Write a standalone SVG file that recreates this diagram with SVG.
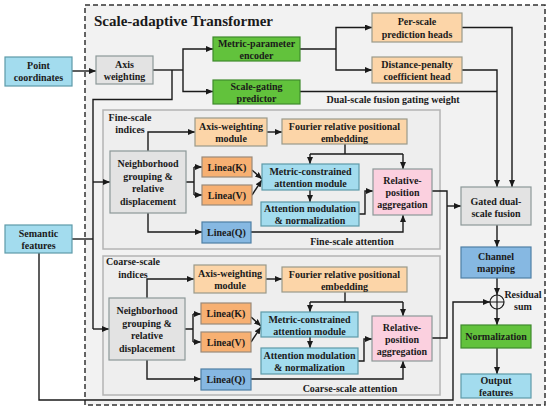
<svg xmlns="http://www.w3.org/2000/svg" width="550" height="411" viewBox="0 0 550 411">
<style>
text{font-family:"Liberation Serif","Times New Roman",serif;font-weight:bold;fill:#1a1a1a;}
.t{font-size:10px;text-anchor:middle;}
.title{font-size:15px;}
.lbl{font-size:10px;text-anchor:middle;}
.box{stroke-width:1.2;}
.cyan{fill:#a3dcee;stroke:#5e9aa8;}
.gray{fill:#e3e3e3;stroke:#8c9898;}
.green{fill:#62c23c;stroke:#3f8a2c;}
.lor{fill:#fcd5a8;stroke:#9a9a8a;}
.dor{fill:#f7b072;stroke:#9a8a7a;}
.blue{fill:#86b8e2;stroke:#4f7fa5;}
.pink{fill:#fbd0df;stroke:#8c9898;}
.blk{fill:#eeeeee;stroke:#b4b4b4;stroke-width:1.5;}
.c{fill:none;stroke:#1a1a1a;stroke-width:1.4;}
.a{marker-end:url(#ah);}
</style>
<defs>
<marker id="ah" markerWidth="7" markerHeight="6" refX="7" refY="3" orient="auto" markerUnits="userSpaceOnUse">
<path d="M0,0 L7,3 L0,6 z" fill="#1a1a1a"/>
</marker>
</defs>
<rect x="0" y="0" width="550" height="411" fill="#ffffff"/>
<rect x="85" y="5" width="460" height="400" fill="#f2f2f2" stroke="#333" stroke-width="1.5" stroke-dasharray="5,3"/>
<text class="title" x="94" y="26">Scale-adaptive Transformer</text>

<g id="fine-block">
<rect class="blk" x="103" y="110" width="337" height="139"/>
<text class="lbl" x="130" y="120.5">Fine-scale</text>
<text class="lbl" x="130" y="133">indices</text>
<text class="lbl" x="352" y="244.5">Fine-scale attention</text>
</g>
<g id="coarse-block">
<rect class="blk" x="103" y="256" width="337" height="139"/>
<text class="lbl" x="133" y="265">Coarse-scale</text>
<text class="lbl" x="133" y="277.5">indices</text>
<text class="lbl" x="350" y="391.5">Coarse-scale attention</text>
</g>

<g id="connectors">
<path class="c a" d="M72,71 H96"/>
<path class="c" d="M153,70 H183"/>
<path class="c a" d="M183,70 V49 H213"/>
<path class="c a" d="M183,70 V91.5 H213"/>
<path class="c" d="M172,70 V99.5 H93 V329"/>
<path class="c a" d="M93,329 H109"/>
<path class="c a" d="M93,182 H110"/>
<path class="c" d="M300,49 H336"/>
<path class="c a" d="M336,49 V27.5 H372"/>
<path class="c a" d="M336,49 V70 H372"/>
<path class="c a" d="M462,27.5 H512 V187"/>
<path class="c a" d="M462,70 H497 V187"/>
<path class="c" d="M300,91.5 H497"/>
<path class="c" d="M72,239 H93"/>
<path class="c a" d="M39,253 V400 H453 V302 H490"/>
<!-- fine -->
<path class="c a" d="M148,151 V132 H195"/>
<path class="c" d="M186,182 H194 M194,167 V195"/>
<path class="c a" d="M194,167 H202"/>
<path class="c a" d="M194,195 H202"/>
<path class="c a" d="M148,213 V232 H202"/>
<path class="c a" d="M252,170 L262,179"/>
<path class="c a" d="M252,195 L262,180"/>
<path class="c a" d="M267,132 H282"/>
<path class="c" d="M345,144 V154 M310,154 H403"/>
<path class="c a" d="M310,154 V164"/>
<path class="c a" d="M403,154 V169"/>
<path class="c a" d="M310,190 V202"/>
<path class="c a" d="M359,214 H365 V191 H373"/>
<path class="c a" d="M251,232 H403 V215"/>
<!-- coarse -->
<path class="c a" d="M147,298 V279 H194"/>
<path class="c" d="M185,329 H193 M193,314 V342"/>
<path class="c a" d="M193,314 H201"/>
<path class="c a" d="M193,342 H201"/>
<path class="c a" d="M147,360 V379 H201"/>
<path class="c a" d="M251,317 L261,326"/>
<path class="c a" d="M251,342 L261,327"/>
<path class="c a" d="M266,279 H282"/>
<path class="c" d="M345,292 V302 M310,302 H403"/>
<path class="c a" d="M310,302 V312"/>
<path class="c a" d="M403,302 V316"/>
<path class="c a" d="M310,337 V348"/>
<path class="c a" d="M358,361 H364 V339 H372"/>
<path class="c a" d="M251,379 H403 V361"/>
<!-- fusion -->
<path class="c" d="M432,191 H447 V338 H432"/>
<path class="c a" d="M447,206 H461"/>
<path class="c a" d="M497,225 V247"/>
<path class="c a" d="M497,278 V295"/>
<path class="c a" d="M497,309 V325"/>
<path class="c a" d="M497,348 V374"/>
</g>

<g id="point-coordinates"><rect class="box cyan" x="5" y="57" width="67" height="29"/><text class="t" x="38.5" y="68.5">Point</text><text class="t" x="38.5" y="81">coordinates</text></g>
<g id="semantic-features"><rect class="box cyan" x="5" y="225" width="67" height="28"/><text class="t" x="38.5" y="236.5">Semantic</text><text class="t" x="38.5" y="249">features</text></g>
<g id="axis-weighting"><rect class="box gray" x="96" y="56" width="57" height="28"/><text class="t" x="124.5" y="67.5">Axis</text><text class="t" x="124.5" y="80">weighting</text></g>
<g id="metric-parameter-encoder"><rect class="box green" x="213" y="37" width="87" height="24"/><text class="t" x="256.5" y="47">Metric-parameter</text><text class="t" x="256.5" y="58.5">encoder</text></g>
<g id="scale-gating-predictor"><rect class="box green" x="213" y="80" width="87" height="24"/><text class="t" x="256.5" y="90">Scale-gating</text><text class="t" x="256.5" y="101.5">predictor</text></g>
<g id="per-scale-heads"><rect class="box lor" x="372" y="13" width="90" height="29"/><text class="t" x="417" y="25">Per-scale</text><text class="t" x="417" y="37.5">prediction heads</text></g>
<g id="distance-penalty-head"><rect class="box lor" x="372" y="57" width="90" height="26"/><text class="t" x="417" y="67.5">Distance-penalty</text><text class="t" x="417" y="80">coefficient head</text></g>
<text class="lbl" x="393" y="103">Dual-scale fusion gating weight</text>

<g id="fine-neighborhood"><rect class="box gray" x="110" y="151" width="76" height="62"/><text class="t" x="148" y="167">Neighborhood</text><text class="t" x="148" y="179.5">grouping &amp;</text><text class="t" x="148" y="192">relative</text><text class="t" x="148" y="204.5">displacement</text></g>
<g id="fine-axis-module"><rect class="box lor" x="195" y="118" width="72" height="28"/><text class="t" x="231" y="129.5">Axis-weighting</text><text class="t" x="231" y="142">module</text></g>
<g id="fine-linea-k"><rect class="box dor" x="202" y="157" width="50" height="20"/><text class="t" x="227" y="170.5">Linea(K)</text></g>
<g id="fine-linea-v"><rect class="box dor" x="202" y="185" width="50" height="20"/><text class="t" x="227" y="198.5">Linea(V)</text></g>
<g id="fine-linea-q"><rect class="box blue" x="202" y="222" width="49" height="21"/><text class="t" x="226.5" y="236">Linea(Q)</text></g>
<g id="fine-fourier"><rect class="box lor" x="282" y="119" width="125" height="25"/><text class="t" x="344.5" y="129.5">Fourier relative positional</text><text class="t" x="344.5" y="141.5">embedding</text></g>
<g id="fine-metric-attention"><rect class="box cyan" x="262" y="164" width="97" height="26"/><text class="t" x="310.5" y="175">Metric-constrained</text><text class="t" x="310.5" y="187">attention module</text></g>
<g id="fine-attention-mod"><rect class="box cyan" x="261" y="202" width="98" height="24"/><text class="t" x="310" y="212">Attention modulation</text><text class="t" x="310" y="224">&amp; normalization</text></g>
<g id="fine-aggregation"><rect class="box pink" x="373" y="169" width="59" height="46"/><text class="t" x="402.5" y="184">Relative-</text><text class="t" x="402.5" y="196">position</text><text class="t" x="402.5" y="208">aggregation</text></g>

<g id="coarse-neighborhood"><rect class="box gray" x="109" y="298" width="76" height="62"/><text class="t" x="147" y="314">Neighborhood</text><text class="t" x="147" y="326.5">grouping &amp;</text><text class="t" x="147" y="339">relative</text><text class="t" x="147" y="351.5">displacement</text></g>
<g id="coarse-axis-module"><rect class="box lor" x="194" y="265" width="72" height="28"/><text class="t" x="230" y="276.5">Axis-weighting</text><text class="t" x="230" y="289">module</text></g>
<g id="coarse-linea-k"><rect class="box dor" x="201" y="303" width="50" height="21"/><text class="t" x="226" y="317">Linea(K)</text></g>
<g id="coarse-linea-v"><rect class="box dor" x="201" y="332" width="50" height="20"/><text class="t" x="226" y="345.5">Linea(V)</text></g>
<g id="coarse-linea-q"><rect class="box blue" x="201" y="369" width="50" height="21"/><text class="t" x="226" y="383">Linea(Q)</text></g>
<g id="coarse-fourier"><rect class="box lor" x="282" y="267" width="125" height="25"/><text class="t" x="344.5" y="277.5">Fourier relative positional</text><text class="t" x="344.5" y="289.5">embedding</text></g>
<g id="coarse-metric-attention"><rect class="box cyan" x="261" y="312" width="97" height="25"/><text class="t" x="309.5" y="322.5">Metric-constrained</text><text class="t" x="309.5" y="334.5">attention module</text></g>
<g id="coarse-attention-mod"><rect class="box cyan" x="261" y="348" width="97" height="26"/><text class="t" x="309.5" y="359">Attention modulation</text><text class="t" x="309.5" y="371">&amp; normalization</text></g>
<g id="coarse-aggregation"><rect class="box pink" x="372" y="316" width="60" height="45"/><text class="t" x="402" y="331">Relative-</text><text class="t" x="402" y="343">position</text><text class="t" x="402" y="355">aggregation</text></g>

<g id="gated-fusion"><rect class="box gray" x="461" y="187" width="70" height="38"/><text class="t" x="496" y="204.5">Gated dual-</text><text class="t" x="496" y="217">scale fusion</text></g>
<g id="channel-mapping"><rect class="box blue" x="461" y="247" width="70" height="31"/><text class="t" x="496" y="259.5">Channel</text><text class="t" x="496" y="272">mapping</text></g>
<g id="residual-sum"><circle cx="497" cy="302" r="7" fill="none" stroke="#1a1a1a" stroke-width="1.2"/><path d="M490,302 H504 M497,295 V309" stroke="#1a1a1a" stroke-width="1.2"/><text class="lbl" x="523" y="297.5">Residual</text><text class="lbl" x="523" y="310">sum</text></g>
<g id="normalization"><rect class="box green" x="461" y="325" width="70" height="23"/><text class="t" x="496" y="340">Normalization</text></g>
<g id="output-features"><rect class="box cyan" x="461" y="374" width="70" height="24"/><text class="t" x="496" y="384">Output</text><text class="t" x="496" y="396">features</text></g>
</svg>
